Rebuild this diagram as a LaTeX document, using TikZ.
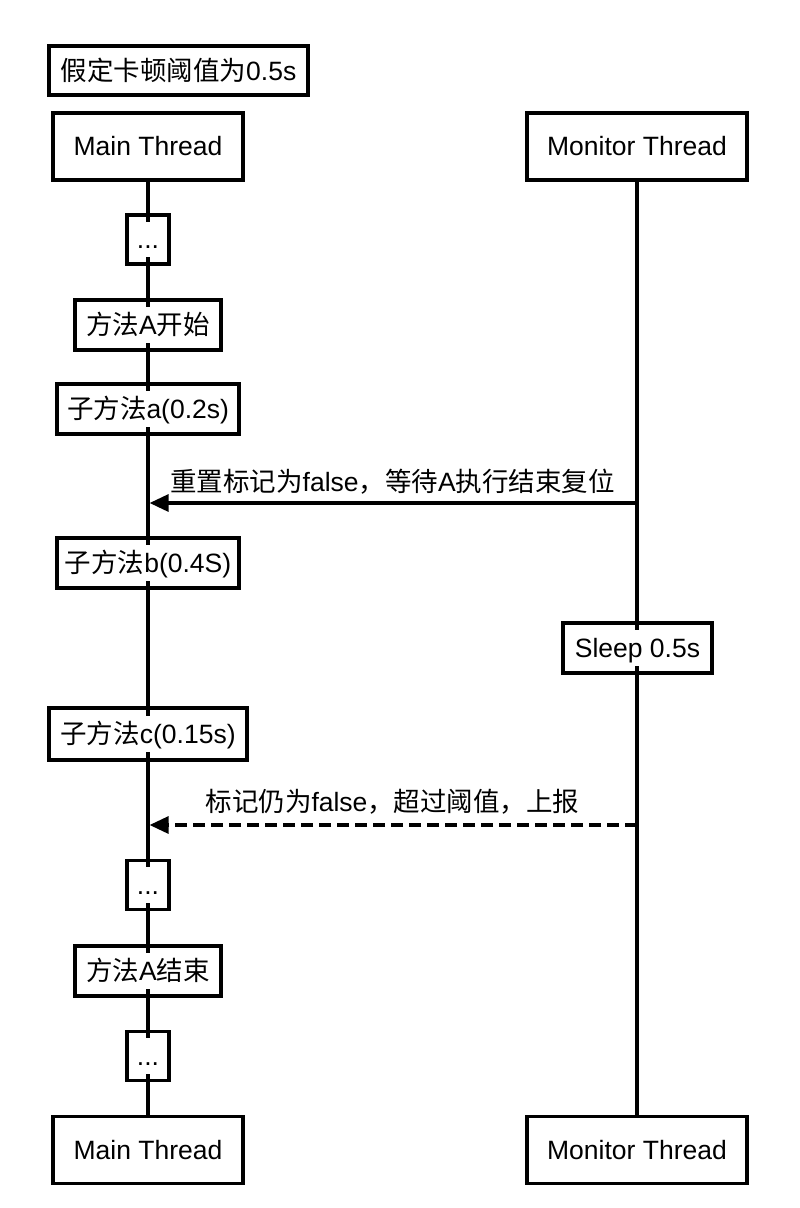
\documentclass[tikz,border=0pt]{standalone}
\usepackage{fontspec}
\setmainfont{Liberation Sans}
\newfontfamily\cjk{Noto Sans CJK SC}
\usetikzlibrary{arrows.meta,backgrounds}
\newcommand\wbg[1]{{\setlength{\fboxsep}{1pt}\colorbox{white}{\rule[-0.27em]{0pt}{1.25em}#1}}}
\begin{document}
\begin{tikzpicture}[x=1pt,y=1pt,
  font=\fontsize{26.5}{30}\selectfont,
  box/.style={draw, line width=3.2pt, inner sep=0pt, align=center},
  thread/.style={box, minimum height=67pt},
  life/.style={line width=3.2pt},
  msg/.style={line width=3.2pt, -{Triangle[length=19pt,width=17pt]}, shorten >=1.6pt},
  dashmsg/.style={msg, dash pattern=on 12pt off 6pt},
  lbl/.style={inner sep=0pt}
]
\useasboundingbox (0,0) rectangle (800,-1208);

\node[box, minimum width=259pt, minimum height=49pt] (title) at (178.5,-70.5) {{\cjk 假定卡顿阈值为}0.5s};

\node[thread, minimum width=190pt] (mainTop) at (148,-146.5) {Main Thread};
\node[thread, minimum width=220pt] (monTop) at (637,-146.5) {Monitor Thread};

\node[box, minimum width=42pt, minimum height=49pt] (dots1) at (148,-239.5) {\wbg{...}};
\node[box, minimum width=146pt, minimum height=50pt] (aStart) at (148,-325) {\wbg{{\cjk 方法}A{\cjk 开始}}};
\node[box, minimum width=182pt, minimum height=50pt] (subA) at (148,-409) {\wbg{{\cjk 子方法}a(0.2s)}};
\node[box, minimum width=182pt, minimum height=50pt] (subB) at (148,-563) {\wbg{{\cjk 子方法}b(0.4S)}};
\node[box, minimum width=149pt, minimum height=50pt] (sleep) at (637.5,-648) {\wbg{Sleep 0.5s}};
\node[box, minimum width=198pt, minimum height=52pt] (subC) at (148,-734) {\wbg{{\cjk 子方法}c(0.15s)}};
\node[box, minimum width=42pt, minimum height=49pt] (dots2) at (148,-885) {\wbg{...}};
\node[box, minimum width=146pt, minimum height=50pt] (aEnd) at (148,-971) {\wbg{{\cjk 方法}A{\cjk 结束}}};
\node[box, minimum width=42pt, minimum height=49pt] (dots3) at (148,-1056) {\wbg{...}};

\node[thread, minimum width=190pt] (mainBot) at (148,-1150) {Main Thread};
\node[thread, minimum width=220pt] (monBot) at (637,-1150) {Monitor Thread};

\begin{scope}[on background layer]
  \fill[white] (0,0) rectangle (800,-1208);
  \draw[life] (mainTop.south) -- (mainBot.north);
  \draw[life] (monTop.south) -- (monBot.north);
\end{scope}

\coordinate (y1) at (0,-503);
\coordinate (y2) at (0,-825);
\coordinate (m1s) at (monTop.south |- y1);
\coordinate (m1e) at (mainTop.south |- y1);
\coordinate (m2s) at (monTop.south |- y2);
\coordinate (m2e) at (mainTop.south |- y2);

\draw[msg] (m1s) -- (m1e);
\draw[dashmsg] (m2s) -- (m2e);

\node[lbl] (lab1) at (392.5,-482) {{\cjk 重置标记为}false{\cjk ，等待}A{\cjk 执行结束复位}};
\node[lbl] (lab2) at (392.5,-802) {{\cjk 标记仍为}false{\cjk ，超过阈值，上报}};
\end{tikzpicture}
\end{document}
